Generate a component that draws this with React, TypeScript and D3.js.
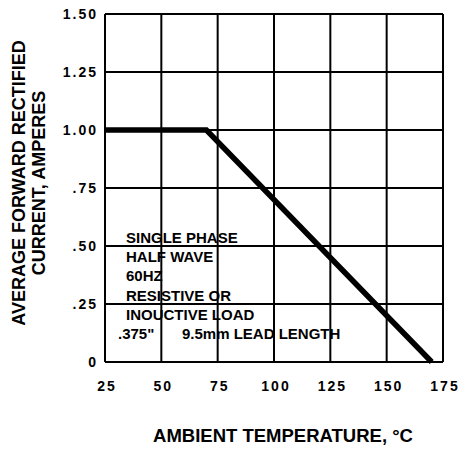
import React from "react";
import * as d3 from "d3";

const W = 463;
const H = 450;
const plot = { left: 105, right: 443, top: 14, bottom: 362 };

const xTicks = [25, 50, 75, 100, 125, 150, 175];
const yTicks = [0, 0.25, 0.5, 0.75, 1.0, 1.25, 1.5];
const yTickLabels = ["0", ".25", ".50", ".75", "1.00", "1.25", "1.50"];

// derating curve: ambient temp (°C) vs current (A)
const curveTemp = [25, 70, 170];
const curveCurrent = [1.0, 1.0, 0];

const noteLines = [
  "SINGLE PHASE",
  "HALF WAVE",
  "60HZ",
  "RESISTIVE OR",
  "INOUCTIVE LOAD",
];
const leadNote = [".375\"", "9.5mm LEAD LENGTH"];

const yTitle = ["AVERAGE FORWARD RECTIFIED", "CURRENT, AMPERES"];
const xTitle = "AMBIENT TEMPERATURE, °C";

const font = "'Liberation Sans', Arial, Helvetica, sans-serif";

export default function App() {
  const x = d3.scaleLinear().domain([25, 175]).range([plot.left, plot.right]);
  const y = d3.scaleLinear().domain([0, 1.5]).range([plot.bottom, plot.top]);

  const pts = curveTemp.map((t, i) => [t, curveCurrent[i]] as [number, number]);
  const line = d3
    .line<[number, number]>()
    .x((d) => x(d[0]))
    .y((d) => y(d[1]));

  const noteY = (i: number) => 243 + i * 19.2;

  return (
    <svg
      width={W}
      height={H}
      style={{ position: "absolute", left: 0, top: 0, background: "#fff" }}
      fontFamily={font}
      fontWeight="bold"
    >
      {/* grid */}
      {xTicks.map((t) => (
        <line key={"vx" + t} x1={x(t)} x2={x(t)} y1={plot.top} y2={plot.bottom} stroke="#000" strokeWidth={2} />
      ))}
      {yTicks.map((t) => (
        <line key={"hy" + t} x1={plot.left} x2={plot.right} y1={y(t)} y2={y(t)} stroke="#000" strokeWidth={2} />
      ))}

      {/* derating curve */}
      <path d={line(pts) || ""} fill="none" stroke="#000" strokeWidth={5.5} strokeLinejoin="miter" />

      {/* tick labels */}
      {yTicks.map((t, i) => (
        <text key={"yl" + t} x={98} y={y(t)} dy="0.36em" textAnchor="end" fontSize={14} letterSpacing={2}>
          {yTickLabels[i]}
        </text>
      ))}
      {xTicks.map((t) => (
        <text key={"xl" + t} x={x(t) + 2} y={391} textAnchor="middle" fontSize={14} letterSpacing={2}>
          {t}
        </text>
      ))}

      {/* notes */}
      {noteLines.map((s, i) => (
        <text key={"n" + i} x={126} y={noteY(i)} fontSize={15}>
          {s}
        </text>
      ))}
      <text y={noteY(noteLines.length)} fontSize={15}>
        <tspan x={118}>{leadNote[0]}</tspan>
        <tspan x={182}>{leadNote[1]}</tspan>
      </text>

      {/* axis titles */}
      {yTitle.map((s, i) => (
        <text
          key={"yt" + i}
          transform={`translate(${25 + i * 20},183) rotate(-90)`}
          textAnchor="middle"
          fontSize={18}
        >
          {s}
        </text>
      ))}
      <text x={283} y={442} textAnchor="middle" fontSize={18.5}>
        {xTitle}
      </text>
    </svg>
  );
}
